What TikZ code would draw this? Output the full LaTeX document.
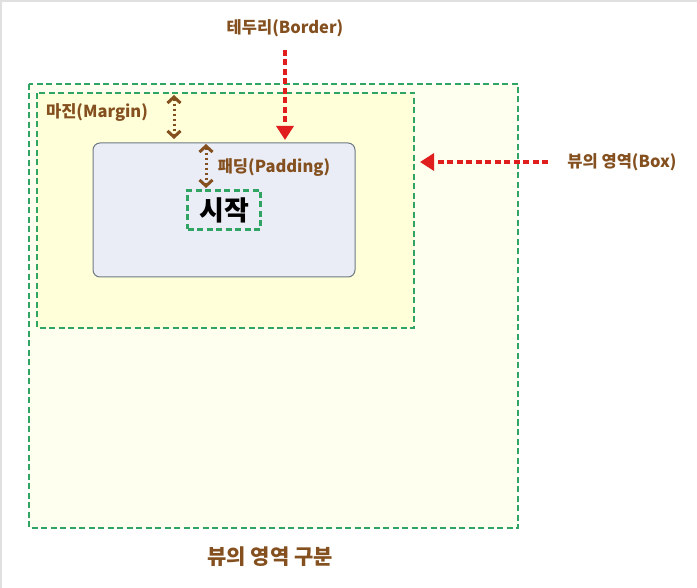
\documentclass[tikz,border=0pt]{standalone}
\usepackage{fontspec}
\setmainfont{Noto Sans CJK KR}
\usetikzlibrary{arrows.meta}
\definecolor{lbl}{HTML}{84501F}
\definecolor{grn}{HTML}{2FA463}
\definecolor{rd}{HTML}{E01E1E}
\definecolor{outerfill}{HTML}{FFFFF0}
\definecolor{innerfill}{HTML}{FFFFD9}
\definecolor{viewfill}{HTML}{EAEDF5}
\definecolor{viewdraw}{HTML}{6E7A86}
\tikzset{
  x=1pt,y=-1pt,
  zone/.style={draw=grn, line width=2.4pt, dash pattern=on 6pt off 3.5pt},
  lab/.style={text=lbl, font=\fontsize{16.5}{18}\selectfont\bfseries, inner sep=0pt},
  redarrow/.style={draw=rd, line width=3.2pt, dash pattern=on 6pt off 3.5pt, -{Triangle[length=14pt,width=17pt]}},
  gap/.style={draw=lbl, line width=3pt, dash pattern=on 2.5pt off 2.5pt, {Straight Barb[length=6pt,width=13pt,line width=3pt]}-{Straight Barb[length=6pt,width=13pt,line width=3pt]}}
}
\begin{document}
\begin{tikzpicture}
\useasboundingbox (0,0) rectangle (697,588);
\fill[white] (0,0) rectangle (697,588);
\draw[black!12, line width=1.2pt] (1,588) -- (1,1) -- (697,1);
% outer box
\path[zone, fill=outerfill] (29,84) rectangle (518,528);
\coordinate (outerR) at (420,162);
% margin box
\path[zone, fill=innerfill] (37,93) rectangle (414,328);
% view
\node[draw=viewdraw, fill=viewfill, rounded corners=7pt, line width=1pt, minimum width=262pt, minimum height=134pt, inner sep=0pt] (view) at (224,210) {};
% content
\node[zone, fill=viewfill, minimum width=73pt, minimum height=39pt, inner sep=0pt, font=\fontsize{27}{29}\selectfont\bfseries] (start) at (224,210) {시작};
% labels
\node[lab] (border) at (285,28) {테두리(Border)};
\node[lab] (margin) at (97,113) {마진(Margin)};
\node[lab] (padding) at (274,168) {패딩(Padding)};
\node[lab] (box) at (622,162) {뷰의 영역(Box)};
\node[text=lbl, font=\fontsize{21}{23}\selectfont\bfseries, inner sep=0pt] (title) at (270,557) {뷰의 영역 구분};
% arrows
\coordinate (bs) at (285,50);
\coordinate (bt) at (285,140);
\draw[redarrow] (bs) -- (bt);
\coordinate (xs) at (548,162);
\draw[redarrow] (xs) -- (outerR);
\coordinate (m1) at (174,95);
\coordinate (m2) at (174,139);
\draw[gap] (m1) -- (m2);
\coordinate (p1) at (206,144);
\coordinate (p2) at (206,188);
\draw[gap] (p1) -- (p2);
\end{tikzpicture}
\end{document}
